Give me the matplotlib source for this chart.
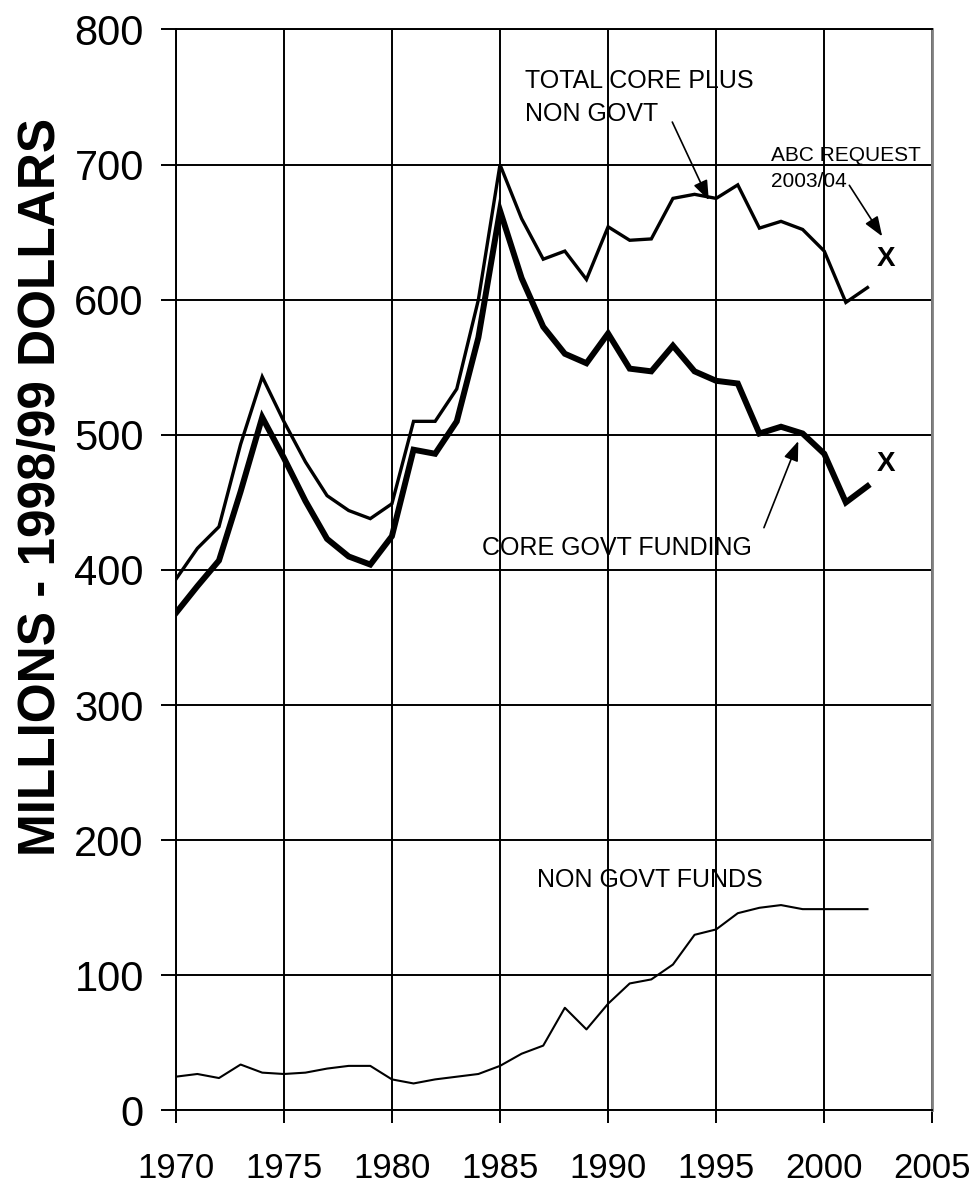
import matplotlib
matplotlib.use("Agg")
import matplotlib.pyplot as plt

plt.rcParams["font.family"] = ["Liberation Sans", "DejaVu Sans"]

years = [1970, 1971, 1972, 1973, 1974, 1975, 1976, 1977, 1978, 1979,
         1980, 1981, 1982, 1983, 1984, 1985, 1986, 1987, 1988, 1989,
         1990, 1991, 1992, 1993, 1994, 1995, 1996, 1997, 1998, 1999,
         2000, 2001, 2002]

total_core_plus_non_govt = [393, 416, 432, 493, 543, 510, 480, 455, 444, 438,
                            449, 510, 510, 534, 600, 700, 660, 630, 636, 615,
                            654, 644, 645, 675, 678, 675, 685, 653, 658, 652,
                            636, 598, 609]

core_govt_funding = [368, 388, 407, 458, 513, 483, 451, 423, 410, 404,
                     425, 489, 486, 510, 572, 666, 616, 580, 560, 553,
                     575, 549, 547, 566, 547, 540, 538, 501, 506, 501,
                     486, 450, 462]

non_govt_funds = [25, 27, 24, 34, 28, 27, 28, 31, 33, 33,
                  23, 20, 23, 25, 27, 33, 42, 48, 76, 60,
                  79, 94, 97, 108, 130, 134, 146, 150, 152, 149,
                  149, 149, 149]

request_year = 2002.85
request_values = [624.6, 473.6]

x_ticks = [1970, 1975, 1980, 1985, 1990, 1995, 2000, 2005]
y_ticks = [0, 100, 200, 300, 400, 500, 600, 700, 800]

fig = plt.figure(figsize=(9.78, 11.84), dpi=100)
ax = fig.add_axes([0.1797, 0.0621, 0.7736, 0.913])

ax.plot(years, total_core_plus_non_govt, color="black", lw=2.4,
        solid_joinstyle="miter", zorder=3)
ax.plot(years, core_govt_funding, color="black", lw=4.3,
        solid_joinstyle="miter", zorder=3)
ax.plot(years, non_govt_funds, color="black", lw=1.5, zorder=3)

ax.set_xlim(1970, 2005)
ax.set_ylim(0, 800)
ax.set_xticks(x_ticks)
ax.set_yticks(y_ticks)
ax.grid(True, color="black", lw=1.4)
ax.set_axisbelow(True)

ax.tick_params(axis="x", labelsize=25, length=9, width=1.4, pad=21,
               direction="out")
ax.tick_params(axis="y", labelsize=30, length=10.5, width=1.4, pad=12.5,
               direction="out")

for side in ["left", "bottom", "top"]:
    ax.spines[side].set_color("black")
    ax.spines[side].set_linewidth(1.4)
ax.spines["right"].set_color("#808080")
ax.spines["right"].set_linewidth(2)

fig.text(42 / 978, 1 - 487 / 1184, "MILLIONS - 1998/99 DOLLARS",
         rotation=90, ha="center", va="center", fontsize=37,
         fontweight="bold")

# series labels
ax.text(1986.16, 756.5, "TOTAL CORE PLUS", fontsize=18, va="baseline")
ax.text(1986.16, 732.0, "NON GOVT", fontsize=18, va="baseline")
ax.text(1997.53, 702.4, "ABC REQUEST", fontsize=15, va="baseline")
ax.text(1997.53, 683.4, "2003/04", fontsize=15, va="baseline")
ax.text(1984.15, 410.8, "CORE GOVT FUNDING", fontsize=18, va="baseline")
ax.text(1986.71, 165.3, "NON GOVT FUNDS", fontsize=18, va="baseline")

for v in request_values:
    ax.text(request_year, v, "X", fontsize=20, fontweight="bold",
            ha="center", va="baseline")

arrow = dict(arrowstyle="-|>,head_length=0.8,head_width=0.3", color="black",
             lw=1.2, shrinkA=0, shrinkB=0, mutation_scale=15)
ax.annotate("", xy=(1994.66, 673.6), xytext=(1992.97, 731.5), arrowprops=arrow)
ax.annotate("", xy=(2002.68, 646.9), xytext=(2001.16, 684.7), arrowprops=arrow)
ax.annotate("", xy=(1998.8, 495.4), xytext=(1997.21, 431.3), arrowprops=arrow)

fig.savefig("out.png", dpi=100)
